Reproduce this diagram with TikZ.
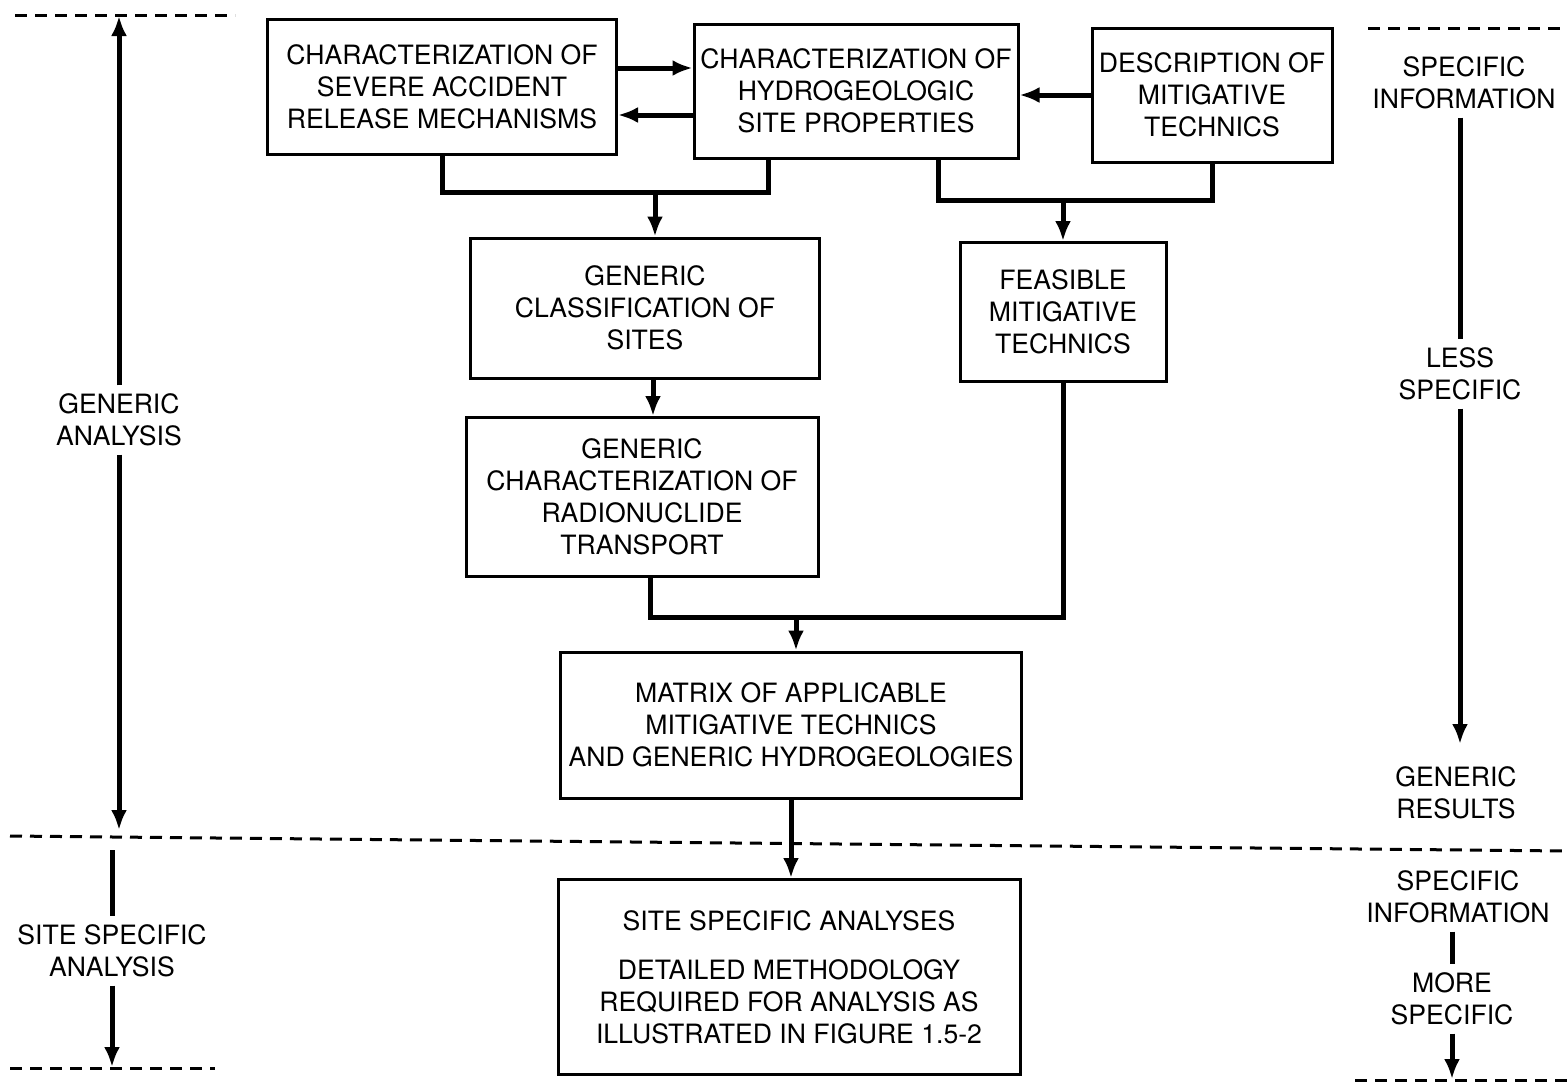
\documentclass[tikz,border=0pt]{standalone}
\usepackage{fontspec}
\setmainfont{TeX Gyre Heros}
\usetikzlibrary{arrows.meta}
\tikzset{
  blk/.style={draw, line width=1.5pt, align=center, inner sep=2pt, font=\fontsize{13.3}{16}\selectfont},
  lbl/.style={align=center, inner sep=4pt, font=\fontsize{13.3}{16}\selectfont},
  wire/.style={line width=2.5pt},
  arr/.style={line width=2.5pt, -{Latex[length=10pt,width=8pt]}},
  sep/.style={line width=1.5pt, dash pattern=on 6pt off 4pt}
}

\begin{document}
\begin{tikzpicture}[x=0.5pt,y=-0.5pt]
\useasboundingbox (0,0) rectangle (1568,1083);
% top row of boxes
\node[blk, minimum width=174.5pt, minimum height=67.5pt] (relsev) at (442,87) {CHARACTERIZATION OF\\SEVERE ACCIDENT\\RELEASE MECHANISMS};
\node[blk, minimum width=162pt, minimum height=67pt] (hydro) at (856,91) {CHARACTERIZATION OF\\HYDROGEOLOGIC\\SITE PROPERTIES};
\node[blk, minimum width=120pt, minimum height=67pt] (mitig) at (1212,95) {DESCRIPTION OF\\MITIGATIVE\\TECHNICS};
% middle boxes
\node[blk, minimum width=174.5pt, minimum height=70pt] (classif) at (645,308) {GENERIC\\CLASSIFICATION OF\\SITES};
\node[blk, minimum width=103pt, minimum height=69.5pt] (feas) at (1063,312) {FEASIBLE\\MITIGATIVE\\TECHNICS};
\node[blk, minimum width=176pt, minimum height=79.5pt] (trans) at (642,497) {GENERIC\\CHARACTERIZATION OF\\RADIONUCLIDE\\TRANSPORT};
\node[blk, minimum width=230.5pt, minimum height=73pt] (matrix) at (791,725) {MATRIX OF APPLICABLE\\MITIGATIVE TECHNICS\\AND GENERIC HYDROGEOLOGIES};
\node[blk, minimum width=231pt, minimum height=97.5pt] (site) at (789,977) {SITE SPECIFIC ANALYSES\\[8.5pt]DETAILED METHODOLOGY\\REQUIRED FOR ANALYSIS AS\\ILLUSTRATED IN FIGURE 1.5-2};

% joins
\coordinate (j1) at (655,192);
\coordinate (j2) at (1063,200);
\coordinate (j3) at (796,617);

% connectors between boxes
\draw[arr] ([yshift=9.5pt]relsev.east) -- ([yshift=9.5pt]relsev.east -| hydro.west);
\draw[arr] ([yshift=-12pt]hydro.west) -- ([yshift=-12pt]hydro.west -| relsev.east);
\draw[arr] (mitig.west) -- (mitig.west -| hydro.east);
\draw[wire] (relsev.south) |- (j1) -| ([xshift=-44pt]hydro.south);
\draw[arr] (j1) -- (j1 |- classif.north);
\draw[wire] ([xshift=41pt]hydro.south) |- (j2) -| (mitig.south);
\draw[arr] (j2) -- (j2 |- feas.north);
\draw[arr] ([xshift=4pt]classif.south) -- ([xshift=4pt]classif.south |- trans.north);
\draw[wire] ([xshift=4pt]trans.south) |- (j3) -| (feas.south);
\draw[arr] (j3) -- (j3 |- matrix.north);
\draw[arr] (matrix.south) -- (matrix.south |- site.north);

% dashed separators
\draw[sep] (15,15) -- (235,15);
\draw[sep] (1368,28) -- (1568,28);
\draw[sep] (10,836) -- (1568,851);
\draw[sep] (10,1068) -- (215,1068);
\draw[sep] (1355,1080) -- (1568,1080);

% left side
\node[lbl] (genana) at (119,420) {GENERIC\\ANALYSIS};
\coordinate (gtop) at (119,16);
\coordinate (gbot) at (119,830);
\draw[arr] (genana.north) -- (gtop);
\draw[arr] (genana.south) -- (gbot);
\node[lbl] (siteana) at (112,951) {SITE SPECIFIC\\ANALYSIS};
\coordinate (stop) at (112,850);
\coordinate (sbot) at (112,1067);
\draw[wire] (stop) -- (siteana.north);
\draw[arr] (siteana.south) -- (sbot);

% right side
\node[lbl] (specinfa) at (1464,83) {SPECIFIC\\INFORMATION};
\node[lbl] (lessspec) at (1460,374) {LESS\\SPECIFIC};
\node[lbl] (genres) at (1456,793) {GENERIC\\RESULTS};
\coordinate (rbot) at (1460,744);
\draw[wire] (specinfa.south -| lessspec) -- (lessspec.north);
\draw[arr] (lessspec.south) -- (rbot);
\node[lbl] (specinfb) at (1458,897) {SPECIFIC\\INFORMATION};
\node[lbl] (morespec) at (1452,999) {MORE\\SPECIFIC};
\coordinate (rbotb) at (1452,1079);
\draw[wire] (specinfb.south -| morespec) -- (morespec.north);
\draw[arr] (morespec.south) -- (rbotb);
\end{tikzpicture}
\end{document}
